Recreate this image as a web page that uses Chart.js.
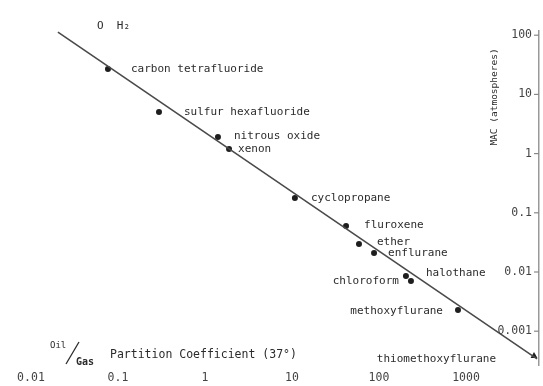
<!DOCTYPE html>
<html>
<head>
<meta charset="utf-8">
<script src="https://cdn.jsdelivr.net/npm/chart.js@4.4.1/dist/chart.umd.min.js"></script>
<style>
body { margin: 0; background: #fff; }
#wrap { width: 543px; height: 386px; }
</style>
</head>
<body>
<div id="wrap"><canvas id="chart" width="543" height="386"></canvas></div>
<script>
// anesthetic agents
const agents = ["carbon tetrafluoride", "sulfur hexafluoride", "nitrous oxide", "xenon",
    "cyclopropane", "fluroxene", "ether", "enflurane", "halothane", "chloroform",
    "methoxyflurane", "thiomethoxyflurane"];
const oilGas = [0.0767, 0.296, 1.41, 1.89, 10.8, 41.8, 58.9, 87.7, 204, 233, 809, 6050];
const mac = [26.9, 5.04, 1.91, 1.20, 0.178, 0.0598, 0.0297, 0.0209, 0.00855, 0.00705, 0.00228, 0.000381];

// ends of the fitted line
const fitOilGas = [0.0204, 6550];
const fitMac = [113, 0.00034];

const xTicks = [0.01, 0.1, 1, 10, 100, 1000];
const xTickLabels = ["0.01", "0.1", "1", "10", "100", "1000"];
const yTicks = [100, 10, 1, 0.1, 0.01, 0.001];
const yTickLabels = ["100", "10", "1", "0.1", "0.01", "0.001"];

// where each name sits relative to its dot: dx, dy, align
const labelPlace = [
    [23, 0, "left"], [25, 0, "left"], [16, -1, "left"], [9, 0, "left"],
    [16, 0, "left"], [18, -1, "left"], [18, -2, "left"], [14, 0, "left"],
    [20, -3, "left"], [-12, 0, "right"], [-15, 1, "right"], [-38, 3, "right"]
];

const MONO = '"DejaVu Sans Mono", monospace';
const INK = "#2b2b2b";

const annotations = {
    id: "annotations",
    afterDraw(chart) {
        const ctx = chart.ctx;
        const xs = chart.scales.x;
        const ys = chart.scales.y;
        ctx.save();
        ctx.fillStyle = INK;
        ctx.textBaseline = "middle";
        ctx.font = "11px " + MONO;

        agents.forEach((name, i) => {
            const px = xs.getPixelForValue(oilGas[i]);
            const py = ys.getPixelForValue(mac[i]);
            const p = labelPlace[i];
            ctx.textAlign = p[2];
            ctx.fillText(name, px + p[0], py + p[1]);
        });

        // y ticks sit inside the plot, left of the right-hand axis
        ctx.strokeStyle = "#888";
        ctx.lineWidth = 1.2;
        ctx.textAlign = "right";
        ctx.font = "11.5px " + MONO;
        yTicks.forEach((v, i) => {
            const py = ys.getPixelForValue(v);
            ctx.beginPath();
            ctx.moveTo(xs.right - 5, py);
            ctx.lineTo(xs.right, py);
            ctx.stroke();
            ctx.fillStyle = "#444";
            ctx.fillText(yTickLabels[i], xs.right - 7, py);
        });
        ctx.fillStyle = INK;

        ctx.textAlign = "left";
        ctx.font = "11px " + MONO;
        ctx.fillText("O  H\u2082", 97, 26);

        // axis title: Oil/Gas Partition Coefficient (37°)
        ctx.font = "9px " + MONO;
        ctx.fillText("Oil", 50, 346);
        ctx.font = "bold 10px " + MONO;
        ctx.fillText("Gas", 76, 362);
        ctx.beginPath();
        ctx.strokeStyle = INK;
        ctx.lineWidth = 1.3;
        ctx.moveTo(66, 364);
        ctx.lineTo(79, 342);
        ctx.stroke();
        ctx.font = "11.5px " + MONO;
        ctx.fillText("Partition Coefficient (37\u00b0)", 110, 355);

        ctx.translate(495, 97);
        ctx.rotate(-Math.PI / 2);
        ctx.textAlign = "center";
        ctx.font = "9.5px " + MONO;
        ctx.fillText("MAC (atmospheres)", 0, 0);
        ctx.restore();
    }
};

const ctx = document.getElementById("chart").getContext("2d");
const chart = new Chart(ctx, {
    type: "scatter",
    data: {
        datasets: [{
            label: "fit",
            data: fitOilGas.map((v, i) => ({ x: v, y: fitMac[i] })),
            showLine: true,
            borderColor: "#4a4a4a",
            borderWidth: 1.6,
            pointRadius: 0,
            clip: false
        }, {
            label: "agents",
            data: oilGas.map((v, i) => ({ x: v, y: mac[i] })),
            pointRadius: agents.map(a => a === "thiomethoxyflurane" ? 4 : 3),
            pointStyle: agents.map(a => a === "thiomethoxyflurane" ? "triangle" : "circle"),
            backgroundColor: "#1e1e1e",
            borderColor: "#1e1e1e",
            borderWidth: 0,
            clip: false
        }]
    },
    options: {
        responsive: false,
        animation: false,
        layout: { padding: { top: 31, left: 0, right: 4, bottom: -4.8 } },
        plugins: {
            legend: { display: false },
            tooltip: { enabled: false }
        },
        scales: {
            x: {
                type: "logarithmic",
                position: "bottom",
                min: Math.pow(10, -2.310),
                max: Math.pow(10, 3.839),
                grid: { display: false, drawTicks: false, tickLength: 0 },
                border: { display: false },
                afterBuildTicks: axis => { axis.ticks = xTicks.map(v => ({ value: v })); },
                ticks: {
                    autoSkip: false,
                    maxRotation: 0,
                    padding: 6,
                    color: "#444",
                    font: { family: MONO, size: 11.5 },
                    callback: v => xTickLabels[xTicks.indexOf(v)]
                }
            },
            y: {
                type: "logarithmic",
                position: "right",
                min: Math.pow(10, -3.571),
                max: Math.pow(10, 2.071),
                grid: { display: false, drawTicks: false, tickLength: 0 },
                border: { display: true, color: "#999", width: 1.5 },
                afterBuildTicks: axis => { axis.ticks = yTicks.map(v => ({ value: v })); },
                ticks: { display: false }
            }
        }
    },
    plugins: [annotations]
});
console.log("chart area", chart.chartArea);
</script>
</body>
</html>
